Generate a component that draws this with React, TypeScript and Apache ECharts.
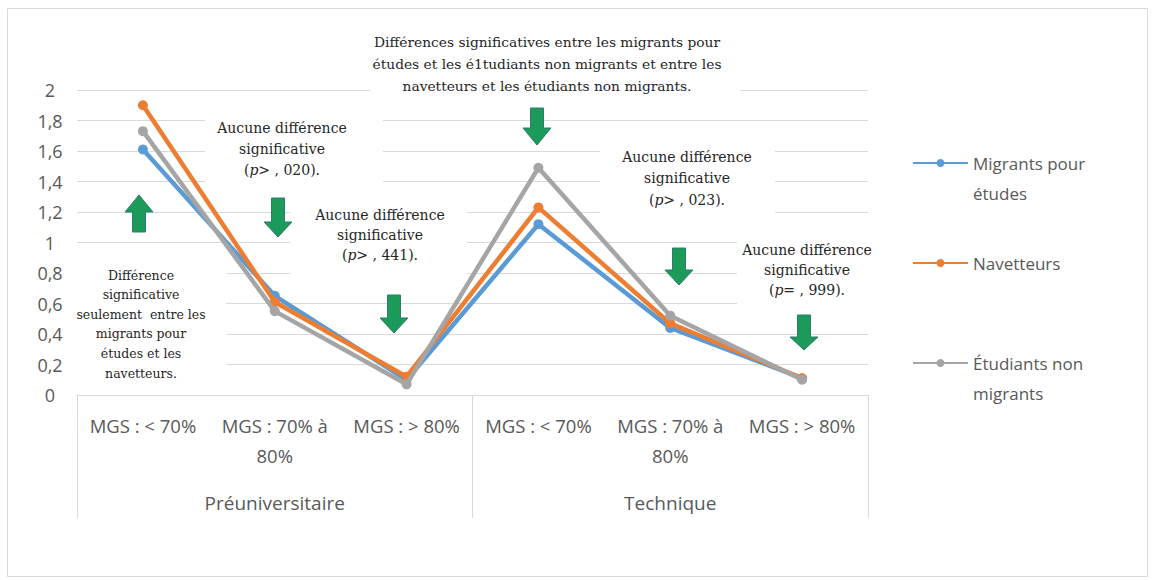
import React, { useEffect, useRef } from "react";
import * as echarts from "echarts";

const categories = ["MGS : < 70%", "MGS : 70% à\n80%", "MGS : > 80%", "MGS : < 70%", "MGS : 70% à\n80%", "MGS : > 80%"];
const groups = ["Préuniversitaire", "Technique"];
const seriesNames = ["Migrants pour études", "Navetteurs", "Étudiants non migrants"];
const legendLabels = ["Migrants pour\nétudes", "Navetteurs", "Étudiants non\nmigrants"];
const migrants = [1.61, 0.65, 0.1, 1.12, 0.44, 0.11];
const navetteurs = [1.9, 0.61, 0.12, 1.23, 0.47, 0.11];
const nonMigrants = [1.73, 0.55, 0.07, 1.49, 0.52, 0.1];
const colors = ["#5b9bd5", "#ed7d31", "#a5a5a5"];

const SERIF = "DejaVu Serif";
const SANS = "Open Sans";

function box(x1: number, y1: number, x2: number, y2: number) {
  return { type: "rect", z: 1, silent: true, shape: { x: x1, y: y1, width: x2 - x1, height: y2 - y1 }, style: { fill: "#ffffff" } };
}

function note(text: string, x: number, y: number, lh: number, size: number) {
  return {
    type: "text",
    z: 5,
    silent: true,
    style: {
      text,
      x,
      y,
      align: "center",
      verticalAlign: "middle",
      font: `${size}px "${SERIF}"`,
      fill: "#262626",
      lineHeight: lh,
      rich: { i: { fontStyle: "italic", fontFamily: SERIF, fontSize: size, lineHeight: lh, fill: "#262626" } },
    },
  };
}

function arrow(cx: number, top: number, bottom: number, hs: number, up: boolean) {
  const bw = 6.5;
  const hw = 14;
  let pts: number[][];
  if (!up) {
    pts = [[cx - bw, top], [cx + bw, top], [cx + bw, hs], [cx + hw, hs], [cx, bottom], [cx - hw, hs], [cx - bw, hs]];
  } else {
    pts = [[cx - bw, bottom], [cx + bw, bottom], [cx + bw, hs], [cx + hw, hs], [cx, top], [cx - hw, hs], [cx - bw, hs]];
  }
  return { type: "polygon", z: 6, silent: true, shape: { points: pts }, style: { fill: "#1b9a5a", stroke: "#2b7c6c", lineWidth: 1 } };
}

export default function App() {
  const ref = useRef<HTMLDivElement>(null);
  useEffect(() => {
    if (!ref.current) return;
    const chart = echarts.init(ref.current, undefined, { renderer: "svg" });
    const data = [migrants, navetteurs, nonMigrants];
    chart.setOption({
      animation: false,
      backgroundColor: "#ffffff",
      grid: { left: 77, right: 284, top: 90, bottom: 185, containLabel: false },
      legend: {
        orient: "vertical",
        left: 912,
        top: 118,
        itemWidth: 55,
        itemHeight: 10,
        itemGap: 40,
        padding: 0,
        data: seriesNames,
        formatter: (name: string) => {
          const l = legendLabels[seriesNames.indexOf(name)];
          return l.includes("\n") ? "\n" + l : l;
        },
        textStyle: { fontFamily: SANS, fontSize: 17, color: "#595959", lineHeight: 30 },
      },
      xAxis: [
        {
          type: "category",
          data: categories,
          boundaryGap: true,
          position: "bottom",
          axisLine: { show: true, lineStyle: { color: "#d9d9d9", width: 1 } },
          axisTick: { show: false },
          axisLabel: { interval: 0, margin: 15, fontFamily: SANS, fontSize: 18.5, color: "#595959", lineHeight: 30 },
        },
        {
          type: "category",
          data: groups,
          boundaryGap: true,
          position: "bottom",
          offset: 0,
          axisLine: { show: false },
          axisTick: { show: true, length: 123, lineStyle: { color: "#d9d9d9", width: 1 } },
          axisLabel: { interval: 0, margin: 97, fontFamily: SANS, fontSize: 19, color: "#595959", lineHeight: 22 },
        },
      ],
      yAxis: {
        type: "value",
        min: 0,
        max: 2,
        interval: 0.2,
        axisLine: { show: false },
        axisTick: { show: false },
        splitLine: { lineStyle: { color: "#d9d9d9", width: 1 } },
        axisLabel: {
          margin: 27,
          align: "center",
          fontFamily: SANS,
          fontSize: 18,
          color: "#595959",
          formatter: (v: number) => String(Math.round(v * 10) / 10).replace(".", ","),
        },
      },
      series: seriesNames.map((name, i) => ({
        name,
        type: "line",
        xAxisIndex: 0,
        data: data[i],
        symbol: "circle",
        symbolSize: 10,
        z: 2 + i,
        itemStyle: { color: colors[i] },
        lineStyle: { color: colors[i], width: 4.5 },
      })),
      graphic: [
        { type: "rect", z: 0, silent: true, shape: { x: 7.5, y: 8.5, width: 1140, height: 568 }, style: { fill: "none", stroke: "#d9d9d9", lineWidth: 1 } },
        box(72, 258, 226, 390),
        box(205, 108, 383, 190),
        box(290, 198, 467, 292),
        box(370, 25, 740, 100),
        box(600, 140, 775, 216),
        box(737, 232, 869, 305),
        note("Différence\nsignificative\nseulement  entre les\nmigrants pour\nétudes et les\nnavetteurs.", 141, 324, 19.6, 12.5),
        note("Aucune différence\nsignificative\n({i|p}> , 020).", 282, 149, 21, 14),
        note("Aucune différence\nsignificative\n({i|p}> , 441).", 380, 235, 20, 14),
        note("Différences significatives entre les migrants pour\nétudes et les é1tudiants non migrants et entre les\nnavetteurs et les étudiants non migrants.", 547, 64, 22, 13.8),
        note("Aucune différence\nsignificative\n({i|p}> , 023).", 687, 178, 21.5, 14),
        note("Aucune différence\nsignificative\n({i|p}= , 999).", 807, 270, 20, 14),
        arrow(139, 195, 232, 212, true),
        arrow(278, 198, 237, 222, false),
        arrow(394, 295, 333, 318, false),
        arrow(537, 108, 145, 128, false),
        arrow(679, 248, 285, 270, false),
        arrow(804, 315, 350, 337, false),
      ],
    });
    return () => chart.dispose();
  }, []);
  return <div ref={ref} style={{ position: "absolute", left: 0, top: 0, width: 1152, height: 580 }} />;
}
